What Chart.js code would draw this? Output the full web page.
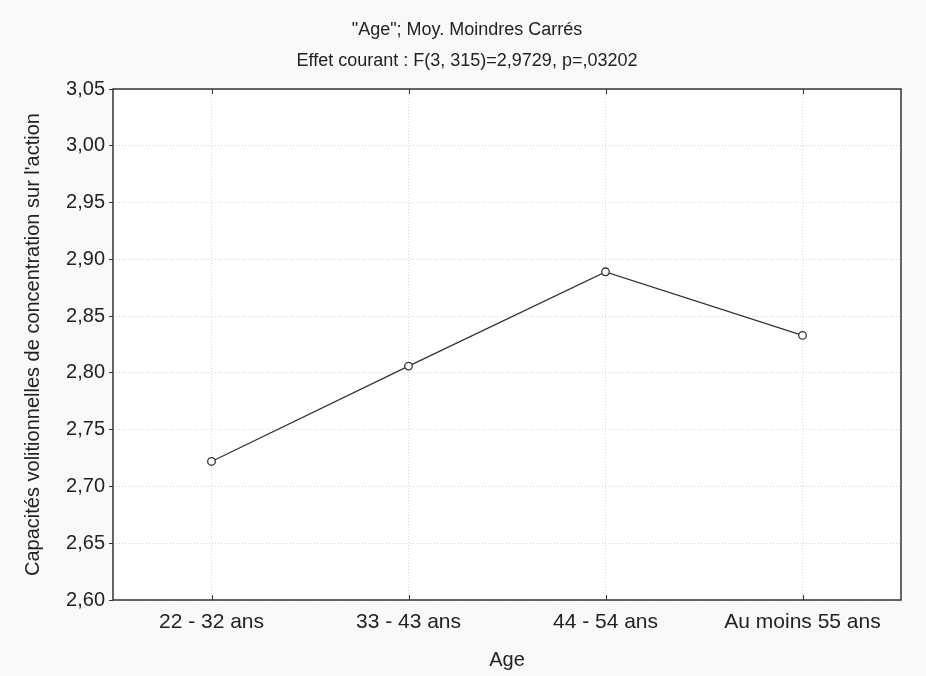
<!DOCTYPE html>
<html>
<head>
<meta charset="utf-8">
<script src="https://cdn.jsdelivr.net/npm/chart.js@4/dist/chart.umd.min.js"></script>
<style>
  html, body { margin: 0; padding: 0; background: #f9f9f9; }
  #wrap { width: 926px; height: 676px; }
</style>
</head>
<body>
<div id="wrap"><canvas id="myChart" width="926" height="676"></canvas></div>
<script>
  var categories = ['22 - 32 ans', '33 - 43 ans', '44 - 54 ans', 'Au moins 55 ans'];
  var moyennes = [2.722, 2.806, 2.889, 2.833];
  var yTicks = [2.60, 2.65, 2.70, 2.75, 2.80, 2.85, 2.90, 2.95, 3.00, 3.05];
  var titleLines = ['"Age"; Moy. Moindres Carrés', 'Effet courant : F(3, 315)=2,9729, p=,03202'];

  var fontFamily = '"Liberation Sans", Arial, sans-serif';

  // fond blanc de la zone de tracé + cadre + petites graduations internes
  var plotFrame = {
    id: 'plotFrame',
    beforeDraw: function(chart) {
      var c = chart.ctx, a = chart.chartArea;
      c.save();
      c.fillStyle = '#ffffff';
      c.fillRect(a.left, a.top, a.right - a.left, a.bottom - a.top);
      c.restore();
    },
    afterDatasetsDraw: function(chart) {
      var c = chart.ctx, a = chart.chartArea, xs = chart.scales.x;
      c.save();
      c.strokeStyle = '#333333';
      c.lineWidth = 1.5;
      c.strokeRect(a.left, a.top, a.right - a.left, a.bottom - a.top);
      c.lineWidth = 1;
      for (var i = 0; i < categories.length; i++) {
        var px = Math.round(xs.getPixelForTick(i)) + 0.5;
        c.beginPath();
        c.moveTo(px, a.bottom); c.lineTo(px, a.bottom - 5);
        c.moveTo(px, a.top); c.lineTo(px, a.top + 5);
        c.stroke();
      }
      c.restore();
    }
  };

  var ctx = document.getElementById('myChart').getContext('2d');
  var chart = new Chart(ctx, {
    type: 'line',
    data: {
      labels: categories,
      datasets: [{
        data: moyennes,
        borderColor: '#333333',
        borderWidth: 1.3,
        backgroundColor: '#ffffff',
        pointBackgroundColor: '#ffffff',
        pointBorderColor: '#333333',
        pointBorderWidth: 1.3,
        pointRadius: 3.8,
        tension: 0,
        fill: false
      }]
    },
    options: {
      responsive: false,
      animation: false,
      layout: { padding: { top: 1, right: 0, bottom: 0, left: 8 } },
      plugins: {
        legend: { display: false },
        tooltip: { enabled: false },
        title: {
          display: true,
          text: titleLines,
          color: '#222222',
          font: { family: fontFamily, size: 18, weight: 'normal', lineHeight: 31 / 18 },
          padding: { top: 14, bottom: 12 }
        }
      },
      scales: {
        x: {
          type: 'category',
          offset: true,
          grid: { color: '#d4d4d4', borderDash: [1, 2], drawTicks: false, offset: false },
          border: { display: false, dash: [1, 2] },
          ticks: { color: '#222222', padding: 10, font: { family: fontFamily, size: 21 }, maxRotation: 0 },
          title: { display: true, text: 'Age', color: '#222222', font: { family: fontFamily, size: 20 }, padding: { top: 0, bottom: 4 } },
          afterFit: function(s) { s.height = 76; s.paddingRight = 25; }
        },
        y: {
          min: 2.60,
          max: 3.05,
          grid: { color: '#d4d4d4', tickColor: '#333333', tickLength: 4 },
          border: { display: false, dash: [1, 2] },
          afterBuildTicks: function(s) { s.ticks = yTicks.map(function(v) { return { value: v }; }); },
          ticks: {
            color: '#222222',
            padding: 4,
            font: { family: fontFamily, size: 20 },
            callback: function(v) { return Number(v).toFixed(2).replace('.', ','); }
          },
          title: {
            display: true,
            text: "Capacités volitionnelles de concentration sur l'action",
            color: '#222222',
            font: { family: fontFamily, size: 20 },
            padding: { top: 13, bottom: 0 }
          },
          afterFit: function(s) { s.width = 105; }
        }
      }
    },
    plugins: [plotFrame]
  });
</script>
</body>
</html>
